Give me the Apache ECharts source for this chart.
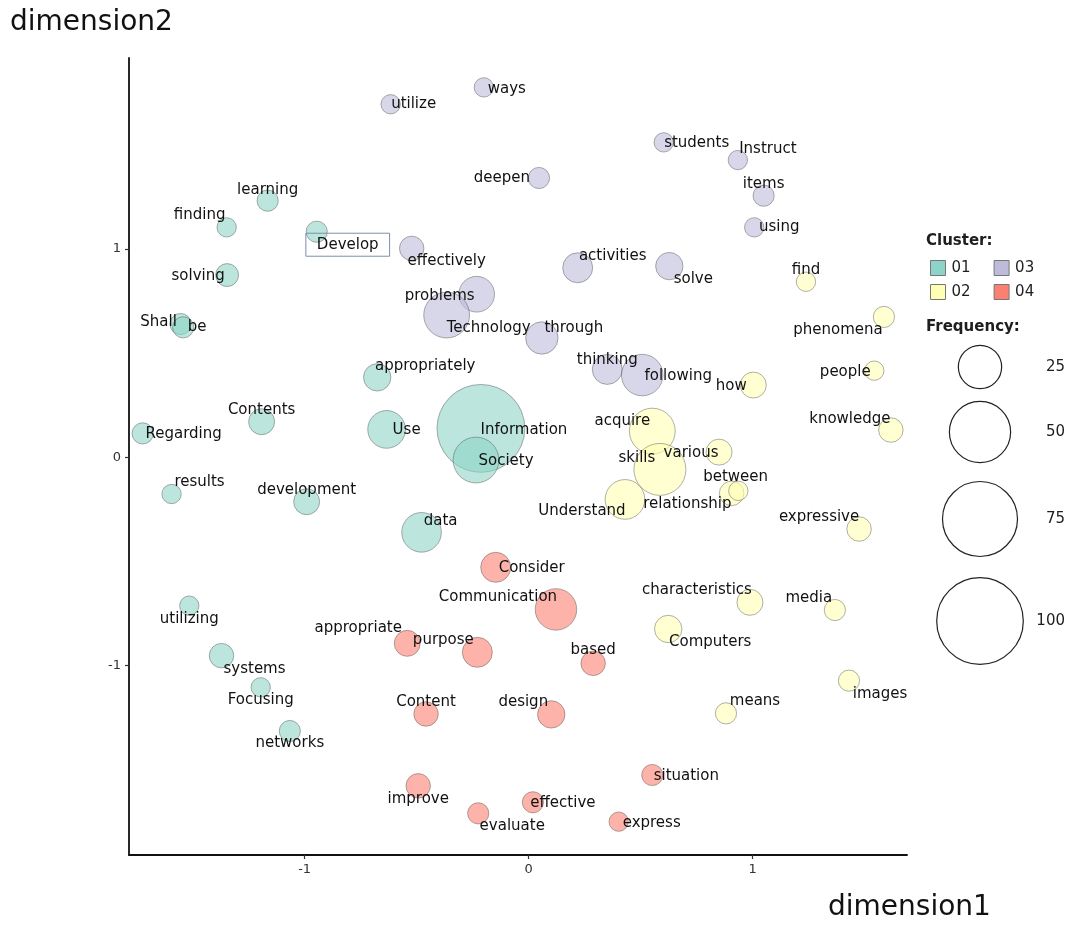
<!DOCTYPE html>
<html>
<head>
<meta charset="utf-8">
<script src="https://cdn.jsdelivr.net/npm/echarts@6/dist/echarts.min.js"></script>
<style>
html,body{margin:0;padding:0;background:#fff;}
#chart{width:1069px;height:926px;}
</style>
</head>
<body>
<div id="chart"></div>
<script>
// ---------- DATA ----------
const clusterNames = ['01', '02', '03', '04'];
const clusterColors = ['#8dd3c7', '#ffffb3', '#bebada', '#fb8072'];

const c01Words = ['learning','finding','Develop','solving','Shall','be','appropriately','Contents','Regarding','Use','Information','Society','results','development','data','utilizing','systems','Focusing','networks'];
const c01X = [-1.165,-1.348,-0.946,-1.346,-1.554,-1.542,-0.676,-1.192,-1.723,-0.634,-0.213,-0.235,-1.594,-0.991,-0.478,-1.515,-1.371,-1.196,-1.066];
const c01Y = [1.232,1.104,1.083,0.875,0.640,0.624,0.384,0.171,0.115,0.134,0.139,-0.013,-0.176,-0.213,-0.360,-0.712,-0.952,-1.104,-1.314];
const c01Freq = [6,5,6,7,6,6,10,9,6,19,103,28,5,9,21,5,8,5,6];

const c02Words = ['find','phenomena','people','how','knowledge','acquire','skills','various','between','relationship','Understand','expressive','characteristics','media','Computers','images','means'];
const c02X = [1.238,1.586,1.543,1.003,1.617,0.552,0.586,0.850,0.906,0.936,0.430,1.475,0.988,1.367,0.623,1.430,0.881];
const c02Y = [0.843,0.674,0.416,0.347,0.131,0.126,-0.058,0.025,-0.173,-0.161,-0.202,-0.344,-0.696,-0.733,-0.824,-1.072,-1.229];
const c02Freq = [5,6,5,9,8,28,36,9,8,5,21,8,9,6,10,6,6];

const c03Words = ['utilize','ways','deepen','students','Instruct','items','using','activities','solve','effectively','problems','Technology','through','thinking','following'];
const c03X = [-0.616,-0.200,0.046,0.603,0.934,1.049,1.007,0.219,0.628,-0.522,-0.232,-0.366,0.059,0.351,0.507];
const c03Y = [1.695,1.776,1.341,1.512,1.427,1.256,1.104,0.910,0.918,1.003,0.783,0.683,0.573,0.422,0.395];
const c03Freq = [5,5,6,5,5,6,5,12,10,8,17,28,14,12,23];

const c04Words = ['Consider','Communication','appropriate','purpose','based','Content','design','improve','evaluate','effective','situation','express'];
const c04X = [-0.147,0.122,-0.542,-0.229,0.288,-0.458,0.101,-0.493,-0.225,0.019,0.552,0.402];
const c04Y = [-0.528,-0.730,-0.893,-0.936,-0.989,-1.232,-1.234,-1.577,-1.709,-1.656,-1.525,-1.749];
const c04Freq = [12,23,9,12,8,8,10,8,6,6,6,5];

const sizeLegendValues = [25, 50, 75, 100];
const xTicks = [-1, 0, 1];
const yTicks = [-1, 0, 1];

// ---------- LAYOUT (label offsets in px, not data) ----------
const labelOffsets = {
  utilize:[23,0], ways:[23,2], deepen:[-37,0], students:[33,1], Instruct:[30,-11], items:[0,-12], using:[25,0],
  activities:[35,-12], solve:[24,13], effectively:[35,13], problems:[-37,2], Technology:[42,13], through:[32,-10],
  thinking:[0,-9], following:[36,1],
  learning:[0,-11], finding:[-27,-12], Develop:[31,13], solving:[-29,1], Shall:[-22,-2], be:[14,0],
  appropriately:[48,-11], Contents:[0,-12], Regarding:[41,1], Use:[20,1], Information:[43,2], Society:[30,1],
  results:[28,-12], development:[0,-12], data:[19,-11], utilizing:[0,13], systems:[33,13], Focusing:[0,13], networks:[0,12],
  Consider:[36,1], Communication:[-58,-12], appropriate:[-49,-15], purpose:[-34,-12], based:[0,-13], Content:[0,-12],
  design:[-28,-12], improve:[0,13], evaluate:[34,13], effective:[30,1], situation:[34,1], express:[33,1],
  find:[0,-12], phenomena:[-46,13], people:[-29,1], how:[-22,1], knowledge:[-41,-11], acquire:[-30,-10], skills:[-23,-11],
  various:[-28,1], between:[4,-16], relationship:[-51,13], Understand:[-43,12], expressive:[-40,-12],
  characteristics:[-53,-12], media:[-26,-12], Computers:[42,13], images:[31,13], means:[29,-12]
};

const RADIUS_K = 4.33; // px radius per sqrt(frequency)
function sizeOf(f) { return 2 * RADIUS_K * Math.sqrt(f); }

function rgba(hex, a) {
  const n = parseInt(hex.slice(1), 16);
  return 'rgba(' + ((n >> 16) & 255) + ',' + ((n >> 8) & 255) + ',' + (n & 255) + ',' + a + ')';
}

const clusters = [
  { words: c01Words, xs: c01X, ys: c01Y, fs: c01Freq },
  { words: c02Words, xs: c02X, ys: c02Y, fs: c02Freq },
  { words: c03Words, xs: c03X, ys: c03Y, fs: c03Freq },
  { words: c04Words, xs: c04X, ys: c04Y, fs: c04Freq }
];

const FONT = 'DejaVu Sans';
const series = [];
const labelData = [];
clusters.forEach(function (c, i) {
  const data = c.words.map(function (w, k) {
    return { name: w, value: [c.xs[k], c.ys[k], c.fs[k]] };
  });
  series.push({
    name: clusterNames[i],
    type: 'scatter',
    z: 2,
    data: data,
    symbolSize: function (v) { return sizeOf(v[2]); },
    itemStyle: { color: rgba(clusterColors[i], 0.6), borderColor: 'rgba(80,80,80,0.45)', borderWidth: 1, opacity: 1 },
    emphasis: { disabled: true },
    label: { show: false }
  });
  c.words.forEach(function (w, k) {
    const item = {
      name: w,
      value: [c.xs[k], c.ys[k]],
      label: { offset: labelOffsets[w] || [0, 0] }
    };
    if (w === 'Develop') {
      item.label.borderColor = '#7d8fae';
      item.label.borderWidth = 1;
      item.label.padding = [4, 11, 4, 11];
    }
    labelData.push(item);
  });
});

series.push({
  name: 'labels',
  type: 'scatter',
  z: 10,
  silent: true,
  symbolSize: 0,
  itemStyle: { color: '#000', opacity: 1, borderWidth: 0 },
  data: labelData,
  label: {
    show: true,
    position: 'inside',
    formatter: '{b}',
    fontFamily: FONT,
    fontSize: 15,
    color: '#111',
    textBorderWidth: 0,
    opacity: 1
  },
  emphasis: { disabled: true }
});

// ---------- size legend graphics ----------
const sizeCenters = [367, 432, 519, 621];
const graphics = [
  { type: 'text', left: 10, top: 9, style: { text: 'dimension2', font: '28px "DejaVu Sans"', fill: '#111' } },
  { type: 'text', left: 828, top: 894, style: { text: 'dimension1', font: '28px "DejaVu Sans"', fill: '#111' } },
  { type: 'text', left: 926, top: 234, style: { text: 'Cluster:', font: 'bold 15px "DejaVu Sans"', fill: '#1e1e1e' } },
  { type: 'text', left: 926, top: 320, style: { text: 'Frequency:', font: 'bold 15px "DejaVu Sans"', fill: '#1e1e1e' } }
];
sizeLegendValues.forEach(function (v, i) {
  graphics.push({ type: 'circle', shape: { cx: 980, cy: sizeCenters[i], r: sizeOf(v) / 2 },
    style: { fill: 'none', stroke: '#222', lineWidth: 1.2 } });
  graphics.push({ type: 'text', x: 1065, y: sizeCenters[i],
    style: { text: String(v), font: '15px "DejaVu Sans"', fill: '#1e1e1e', align: 'right', verticalAlign: 'middle' } });
});

function legendItem(idx) {
  return { name: clusterNames[idx], itemStyle: { color: clusterColors[idx], opacity: 1, borderColor: '#777', borderWidth: 1 } };
}
const legendCommon = {
  orient: 'horizontal', selectedMode: false, icon: 'rect', itemWidth: 15, itemHeight: 15, itemGap: 23,
  textStyle: { fontFamily: FONT, fontSize: 15, color: '#1e1e1e', padding: [0, 0, 0, 1] }, padding: 0
};

const option = {
  backgroundColor: '#fff',
  animation: false,
  textStyle: { fontFamily: FONT },
  grid: { left: 129, top: 58, width: 778, height: 797, containLabel: false },
  xAxis: {
    type: 'value', min: -1.784, max: 1.689,
    splitLine: { show: false },
    axisLine: { show: true, onZero: false, lineStyle: { color: '#111', width: 1.8 } },
    axisTick: { show: true, customValues: xTicks, length: 4, lineStyle: { color: '#333', width: 1.2 } },
    axisLabel: { customValues: xTicks, fontFamily: FONT, fontSize: 13, color: '#333', margin: 8 }
  },
  yAxis: {
    type: 'value', min: -1.909, max: 1.917,
    splitLine: { show: false },
    axisLine: { show: true, onZero: false, lineStyle: { color: '#111', width: 1.8 } },
    axisTick: { show: true, customValues: yTicks, length: 4, lineStyle: { color: '#333', width: 1.2 } },
    axisLabel: { customValues: yTicks, fontFamily: FONT, fontSize: 13, color: '#333', margin: 8 }
  },
  legend: [
    Object.assign({}, legendCommon, { left: 930, top: 260, data: [legendItem(0), legendItem(2)] }),
    Object.assign({}, legendCommon, { left: 930, top: 284, data: [legendItem(1), legendItem(3)] })
  ],
  graphic: graphics,
  series: series
};

const chart = echarts.init(document.getElementById('chart'), null, { renderer: 'canvas' });
chart.setOption(option);
</script>
</body>
</html>
